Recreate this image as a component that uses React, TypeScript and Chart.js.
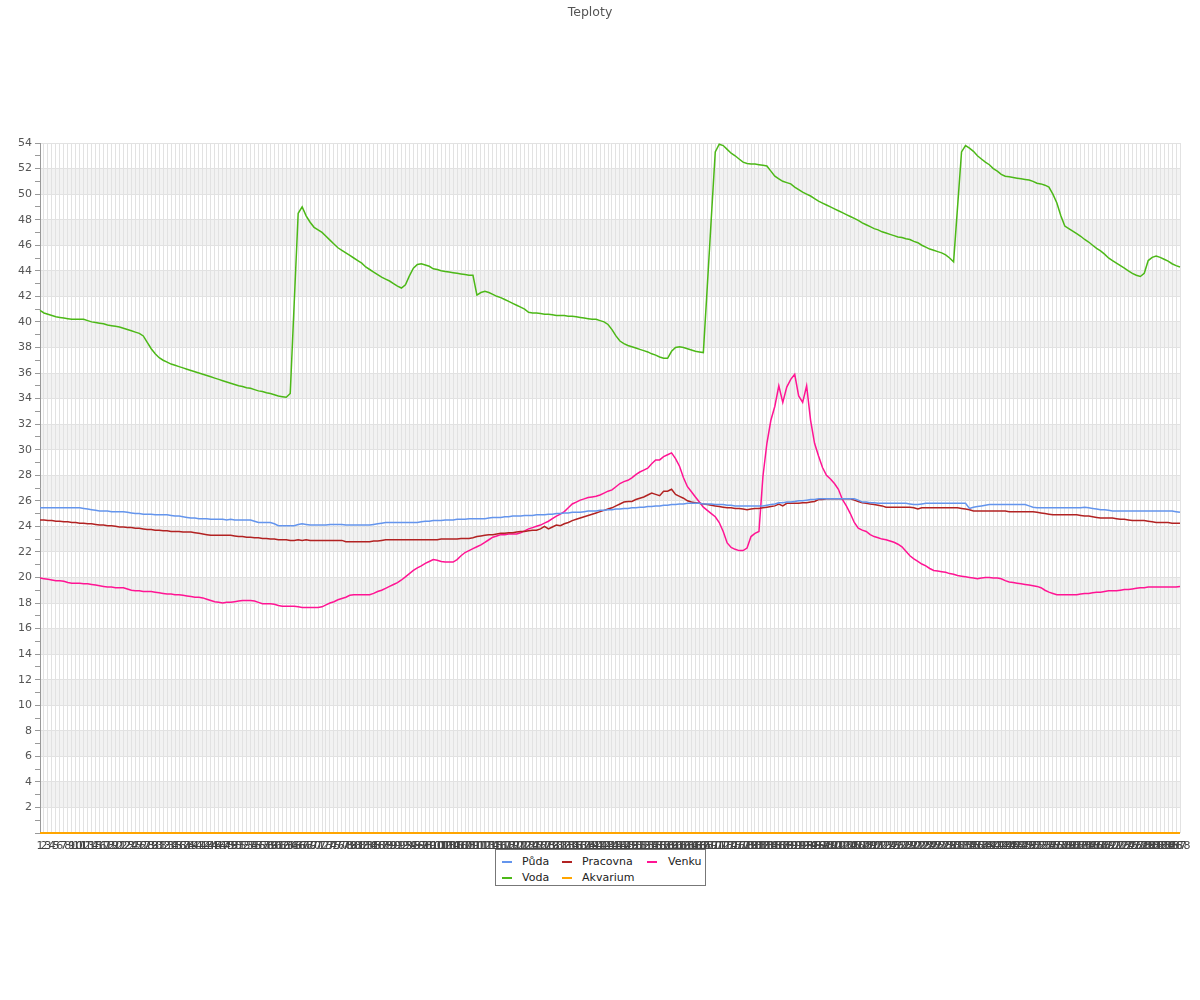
import React, { useEffect, useRef } from "react";
import { Chart, registerables } from "chart.js";

Chart.register(...registerables);

const FONT = "'DejaVu Sans', sans-serif";

const labels: string[] = Array.from({ length: 288 }, (_, i) => String(i + 1));

const puda = [
  25.45, 25.45, 25.45, 25.45, 25.45, 25.45, 25.45, 25.45, 25.45, 25.45, 25.45, 25.4, 25.35, 25.3, 25.25, 25.2,
  25.2, 25.2, 25.15, 25.15, 25.15, 25.15, 25.1, 25.05, 25.0, 25.0, 24.95, 24.95, 24.95, 24.9, 24.9, 24.9,
  24.9, 24.85, 24.8, 24.8, 24.75, 24.7, 24.65, 24.65, 24.6, 24.6, 24.6, 24.55, 24.55, 24.55, 24.55, 24.5,
  24.55, 24.5, 24.5, 24.5, 24.5, 24.5, 24.4, 24.3, 24.3, 24.3, 24.3, 24.2, 24.05, 24.05, 24.05, 24.05,
  24.05, 24.15, 24.2, 24.15, 24.1, 24.1, 24.1, 24.1, 24.1, 24.15, 24.15, 24.15, 24.15, 24.1, 24.1, 24.1,
  24.1, 24.1, 24.1, 24.1, 24.15, 24.2, 24.25, 24.3, 24.3, 24.3, 24.3, 24.3, 24.3, 24.3, 24.3, 24.3,
  24.35, 24.4, 24.4, 24.45, 24.45, 24.45, 24.5, 24.5, 24.5, 24.55, 24.55, 24.55, 24.6, 24.6, 24.6, 24.6,
  24.6, 24.65, 24.7, 24.7, 24.7, 24.75, 24.75, 24.8, 24.8, 24.8, 24.85, 24.85, 24.85, 24.9, 24.9, 24.9,
  24.95, 24.95, 25.0, 25.0, 25.05, 25.05, 25.1, 25.1, 25.1, 25.15, 25.2, 25.2, 25.2, 25.25, 25.25, 25.3,
  25.3, 25.35, 25.35, 25.4, 25.4, 25.45, 25.45, 25.5, 25.5, 25.55, 25.55, 25.6, 25.6, 25.65, 25.65, 25.7,
  25.7, 25.75, 25.75, 25.8, 25.8, 25.8, 25.8, 25.75, 25.75, 25.75, 25.7, 25.7, 25.7, 25.65, 25.65, 25.6,
  25.6, 25.6, 25.6, 25.6, 25.6, 25.6, 25.6, 25.65, 25.7, 25.75, 25.85, 25.85, 25.9, 25.9, 25.95, 26.0,
  26.0, 26.05, 26.1, 26.1, 26.15, 26.15, 26.15, 26.15, 26.15, 26.15, 26.15, 26.15, 26.15, 26.15, 26.05, 25.9,
  25.9, 25.85, 25.85, 25.8, 25.8, 25.8, 25.8, 25.8, 25.8, 25.8, 25.8, 25.75, 25.7, 25.7, 25.75, 25.8,
  25.8, 25.8, 25.8, 25.8, 25.8, 25.8, 25.8, 25.8, 25.8, 25.8, 25.4, 25.5, 25.55, 25.6, 25.65, 25.7,
  25.7, 25.7, 25.7, 25.7, 25.7, 25.7, 25.7, 25.7, 25.7, 25.6, 25.5, 25.45, 25.45, 25.45, 25.45, 25.45,
  25.45, 25.45, 25.45, 25.45, 25.45, 25.45, 25.45, 25.5, 25.45, 25.4, 25.35, 25.3, 25.3, 25.25, 25.2, 25.2,
  25.2, 25.2, 25.2, 25.2, 25.2, 25.2, 25.2, 25.2, 25.2, 25.2, 25.2, 25.2, 25.2, 25.2, 25.15, 25.1,
];

const voda = [
  40.9, 40.7, 40.6, 40.5, 40.4, 40.35, 40.3, 40.25, 40.2, 40.2, 40.2, 40.2, 40.1, 40.0, 39.95, 39.9,
  39.85, 39.75, 39.7, 39.65, 39.6, 39.5, 39.4, 39.3, 39.2, 39.1, 38.9, 38.4, 37.9, 37.5, 37.2, 37.0,
  36.85, 36.7, 36.6, 36.5, 36.4, 36.3, 36.2, 36.1, 36.0, 35.9, 35.8, 35.7, 35.6, 35.5, 35.4, 35.3,
  35.2, 35.1, 35.0, 34.95, 34.85, 34.8, 34.7, 34.6, 34.55, 34.45, 34.4, 34.3, 34.2, 34.15, 34.1, 34.4,
  41.5, 48.5, 49.0, 48.3, 47.8, 47.4, 47.2, 47.0, 46.7, 46.4, 46.1, 45.8, 45.6, 45.4, 45.2, 45.0,
  44.8, 44.6, 44.3, 44.1, 43.9, 43.7, 43.5, 43.35, 43.2, 43.0, 42.8, 42.65, 42.9, 43.6, 44.2, 44.5,
  44.55, 44.45, 44.35, 44.15, 44.1, 44.0, 43.95, 43.9, 43.85, 43.8, 43.75, 43.7, 43.65, 43.65, 42.1, 42.3,
  42.4, 42.3, 42.15, 42.0, 41.9, 41.75, 41.6, 41.45, 41.3, 41.15, 41.0, 40.75, 40.7, 40.7, 40.65, 40.6,
  40.6, 40.55, 40.5, 40.5, 40.5, 40.45, 40.45, 40.4, 40.35, 40.3, 40.25, 40.2, 40.2, 40.1, 40.0, 39.8,
  39.4, 38.9, 38.5, 38.3, 38.15, 38.05, 37.95, 37.85, 37.75, 37.65, 37.5, 37.4, 37.25, 37.15, 37.15, 37.7,
  38.0, 38.05, 38.0, 37.9, 37.8, 37.7, 37.65, 37.6, 42.8, 48.1, 53.3, 53.9, 53.8, 53.5, 53.2, 53.0,
  52.75, 52.5, 52.4, 52.35, 52.35, 52.3, 52.25, 52.2, 51.8, 51.4, 51.2, 51.0, 50.9, 50.8, 50.55, 50.35,
  50.15, 50.0, 49.85, 49.65, 49.45, 49.3, 49.15, 49.0, 48.85, 48.7, 48.55, 48.4, 48.25, 48.1, 47.95, 47.75,
  47.6, 47.45, 47.3, 47.2, 47.05, 46.95, 46.85, 46.75, 46.65, 46.6, 46.5, 46.45, 46.3, 46.2, 46.0, 45.85,
  45.7, 45.6, 45.5, 45.4, 45.25, 45.0, 44.7, 49.0, 53.3, 53.8, 53.6, 53.35, 53.0, 52.75, 52.5, 52.3,
  52.0, 51.8, 51.55, 51.4, 51.35, 51.3, 51.25, 51.2, 51.15, 51.1, 51.0, 50.85, 50.8, 50.7, 50.55, 50.0,
  49.3, 48.3, 47.5, 47.3, 47.1, 46.9, 46.7, 46.45, 46.25, 46.0, 45.75, 45.55, 45.3, 45.0, 44.8, 44.6,
  44.4, 44.2, 44.0, 43.8, 43.65, 43.55, 43.8, 44.8, 45.05, 45.15, 45.05, 44.9, 44.75, 44.55, 44.4, 44.3,
];

const pracovna = [
  24.5, 24.5, 24.45, 24.45, 24.4, 24.4, 24.35, 24.35, 24.3, 24.3, 24.25, 24.25, 24.2, 24.2, 24.15, 24.1,
  24.1, 24.05, 24.05, 24.0, 23.95, 23.95, 23.9, 23.9, 23.85, 23.85, 23.8, 23.75, 23.75, 23.7, 23.7, 23.65,
  23.65, 23.6, 23.6, 23.6, 23.55, 23.55, 23.55, 23.5, 23.45, 23.4, 23.35, 23.3, 23.3, 23.3, 23.3, 23.3,
  23.3, 23.25, 23.2, 23.2, 23.15, 23.15, 23.1, 23.1, 23.05, 23.05, 23.0, 23.0, 22.95, 22.95, 22.95, 22.9,
  22.9, 22.95, 22.9, 22.95, 22.9, 22.9, 22.9, 22.9, 22.9, 22.9, 22.9, 22.9, 22.9, 22.8, 22.8, 22.8,
  22.8, 22.8, 22.8, 22.8, 22.85, 22.85, 22.9, 22.95, 22.95, 22.95, 22.95, 22.95, 22.95, 22.95, 22.95, 22.95,
  22.95, 22.95, 22.95, 22.95, 22.95, 23.0, 23.0, 23.0, 23.0, 23.0, 23.05, 23.05, 23.05, 23.1, 23.2, 23.25,
  23.3, 23.35, 23.35, 23.4, 23.45, 23.45, 23.5, 23.5, 23.55, 23.6, 23.6, 23.65, 23.7, 23.7, 23.8, 24.0,
  23.8, 23.95, 24.1, 24.05, 24.2, 24.3, 24.45, 24.55, 24.65, 24.75, 24.85, 24.95, 25.05, 25.15, 25.25, 25.35,
  25.45, 25.6, 25.75, 25.9, 25.95, 25.95, 26.1, 26.2, 26.3, 26.45, 26.6, 26.5, 26.4, 26.75, 26.75, 26.9,
  26.5, 26.35, 26.2, 26.0, 25.9, 25.85, 25.8, 25.75, 25.7, 25.65, 25.6, 25.55, 25.5, 25.45, 25.45, 25.4,
  25.4, 25.35, 25.3, 25.35, 25.4, 25.4, 25.45, 25.5, 25.55, 25.6, 25.75, 25.6, 25.8, 25.8, 25.8, 25.8,
  25.85, 25.85, 25.9, 25.95, 26.1, 26.1, 26.15, 26.15, 26.15, 26.15, 26.15, 26.15, 26.15, 26.05, 25.95, 25.85,
  25.8, 25.75, 25.7, 25.65, 25.6, 25.5, 25.5, 25.5, 25.5, 25.5, 25.5, 25.5, 25.45, 25.35, 25.45, 25.45,
  25.45, 25.45, 25.45, 25.45, 25.45, 25.45, 25.45, 25.45, 25.4, 25.35, 25.3, 25.2, 25.2, 25.2, 25.2, 25.2,
  25.2, 25.2, 25.2, 25.2, 25.15, 25.15, 25.15, 25.15, 25.15, 25.15, 25.15, 25.1, 25.05, 25.0, 24.95, 24.9,
  24.9, 24.9, 24.9, 24.9, 24.9, 24.9, 24.85, 24.8, 24.8, 24.75, 24.7, 24.65, 24.65, 24.65, 24.65, 24.6,
  24.55, 24.55, 24.5, 24.45, 24.45, 24.45, 24.45, 24.4, 24.35, 24.3, 24.3, 24.3, 24.3, 24.25, 24.25, 24.25,
];

const akvarium = [
  0, 0, 0, 0, 0, 0, 0, 0, 0, 0, 0, 0, 0, 0, 0, 0,
  0, 0, 0, 0, 0, 0, 0, 0, 0, 0, 0, 0, 0, 0, 0, 0,
  0, 0, 0, 0, 0, 0, 0, 0, 0, 0, 0, 0, 0, 0, 0, 0,
  0, 0, 0, 0, 0, 0, 0, 0, 0, 0, 0, 0, 0, 0, 0, 0,
  0, 0, 0, 0, 0, 0, 0, 0, 0, 0, 0, 0, 0, 0, 0, 0,
  0, 0, 0, 0, 0, 0, 0, 0, 0, 0, 0, 0, 0, 0, 0, 0,
  0, 0, 0, 0, 0, 0, 0, 0, 0, 0, 0, 0, 0, 0, 0, 0,
  0, 0, 0, 0, 0, 0, 0, 0, 0, 0, 0, 0, 0, 0, 0, 0,
  0, 0, 0, 0, 0, 0, 0, 0, 0, 0, 0, 0, 0, 0, 0, 0,
  0, 0, 0, 0, 0, 0, 0, 0, 0, 0, 0, 0, 0, 0, 0, 0,
  0, 0, 0, 0, 0, 0, 0, 0, 0, 0, 0, 0, 0, 0, 0, 0,
  0, 0, 0, 0, 0, 0, 0, 0, 0, 0, 0, 0, 0, 0, 0, 0,
  0, 0, 0, 0, 0, 0, 0, 0, 0, 0, 0, 0, 0, 0, 0, 0,
  0, 0, 0, 0, 0, 0, 0, 0, 0, 0, 0, 0, 0, 0, 0, 0,
  0, 0, 0, 0, 0, 0, 0, 0, 0, 0, 0, 0, 0, 0, 0, 0,
  0, 0, 0, 0, 0, 0, 0, 0, 0, 0, 0, 0, 0, 0, 0, 0,
  0, 0, 0, 0, 0, 0, 0, 0, 0, 0, 0, 0, 0, 0, 0, 0,
  0, 0, 0, 0, 0, 0, 0, 0, 0, 0, 0, 0, 0, 0, 0, 0,
];

const venku = [
  19.95, 19.9, 19.85, 19.8, 19.75, 19.75, 19.7, 19.6, 19.55, 19.55, 19.55, 19.5, 19.5, 19.45, 19.4, 19.35,
  19.3, 19.25, 19.25, 19.2, 19.2, 19.2, 19.1, 19.0, 18.95, 18.95, 18.9, 18.9, 18.9, 18.85, 18.8, 18.75,
  18.7, 18.7, 18.65, 18.65, 18.6, 18.55, 18.5, 18.45, 18.45, 18.4, 18.3, 18.2, 18.1, 18.05, 18.0, 18.05,
  18.05, 18.1, 18.15, 18.2, 18.2, 18.2, 18.15, 18.05, 17.95, 17.95, 17.95, 17.9, 17.8, 17.75, 17.75, 17.75,
  17.75, 17.7, 17.65, 17.65, 17.65, 17.65, 17.65, 17.7, 17.85, 18.0, 18.1, 18.25, 18.35, 18.45, 18.6, 18.65,
  18.65, 18.65, 18.65, 18.65, 18.75, 18.9, 19.0, 19.15, 19.3, 19.45, 19.6, 19.8, 20.05, 20.3, 20.55, 20.75,
  20.9, 21.1, 21.25, 21.4, 21.35, 21.25, 21.2, 21.2, 21.2, 21.4, 21.7, 21.95, 22.1, 22.25, 22.4, 22.55,
  22.75, 22.95, 23.15, 23.25, 23.35, 23.35, 23.4, 23.4, 23.4, 23.5, 23.65, 23.8, 23.9, 24.0, 24.1, 24.25,
  24.4, 24.6, 24.8, 24.95, 25.15, 25.45, 25.75, 25.9, 26.05, 26.15, 26.25, 26.3, 26.35, 26.45, 26.6, 26.75,
  26.85, 27.1, 27.35, 27.5, 27.6, 27.8, 28.05, 28.25, 28.4, 28.55, 28.9, 29.2, 29.2, 29.45, 29.6, 29.75,
  29.3, 28.7, 27.8, 27.1, 26.7, 26.3, 25.9, 25.5, 25.25, 25.0, 24.75, 24.3, 23.6, 22.7, 22.35, 22.2,
  22.1, 22.1, 22.3, 23.2, 23.45, 23.6, 27.9, 30.5, 32.3, 33.4, 35.0, 33.7, 34.9, 35.5, 35.9, 34.2,
  33.7, 35.0, 32.3, 30.5, 29.5, 28.6, 28.0, 27.7, 27.35, 26.9, 26.1, 25.6, 25.0, 24.3, 23.85, 23.7,
  23.6, 23.35, 23.2, 23.1, 23.0, 22.95, 22.85, 22.75, 22.6, 22.4, 22.05, 21.7, 21.45, 21.25, 21.05, 20.9,
  20.7, 20.55, 20.5, 20.45, 20.4, 20.3, 20.25, 20.15, 20.1, 20.05, 20.0, 19.95, 19.9, 19.95, 20.0, 20.0,
  19.95, 19.95, 19.9, 19.75, 19.65, 19.6, 19.55, 19.5, 19.45, 19.4, 19.35, 19.3, 19.2, 19.0, 18.85, 18.75,
  18.65, 18.65, 18.65, 18.65, 18.65, 18.65, 18.7, 18.75, 18.75, 18.8, 18.85, 18.85, 18.9, 18.95, 18.95, 18.95,
  19.0, 19.05, 19.05, 19.1, 19.15, 19.2, 19.2, 19.25, 19.25, 19.25, 19.25, 19.25, 19.25, 19.25, 19.25, 19.3,
];

const seriesNames = ["Půda", "Voda", "Pracovna", "Akvarium", "Venku"];
const seriesColors = ["#6495ed", "#4cb817", "#b22222", "#ffa500", "#ff1493"];
const seriesData = [puda, voda, pracovna, akvarium, venku];
const seriesWidths = [1.5, 1.5, 1.5, 2, 1.5];

const bandsPlugin = {
  id: "bands",
  beforeDraw(chart: any) {
    const { ctx, chartArea, scales } = chart;
    const y = scales.y;
    ctx.save();
    ctx.fillStyle = "#f2f2f2";
    for (let v = 2; v < 54; v += 4) {
      const top = y.getPixelForValue(v + 2);
      const bottom = y.getPixelForValue(v);
      ctx.fillRect(chartArea.left, top, chartArea.right - chartArea.left, bottom - top);
    }
    ctx.restore();
  },
};

// legend grid: column, row
const legendPos = [
  [0, 0],
  [0, 1],
  [1, 0],
  [1, 1],
  [2, 0],
];
const colSample = [6, 66, 151];
const colText = [26, 86, 172];
const rowY = [12, 28];

export default function App() {
  const canvasRef = useRef<HTMLCanvasElement | null>(null);

  useEffect(() => {
    if (!canvasRef.current) return;
    const chart = new Chart(canvasRef.current, {
      type: "line",
      data: {
        labels,
        datasets: seriesNames.map((name, i) => ({
          label: name,
          data: seriesData[i],
          borderColor: seriesColors[i],
          backgroundColor: seriesColors[i],
          borderWidth: seriesWidths[i],
          pointRadius: 0,
          fill: false,
          tension: 0,
          clip: false as any,
        })),
      },
      options: {
        animation: false,
        responsive: false,
        events: [],
        layout: { padding: { left: 0, right: 20, top: 0, bottom: 147 } },
        plugins: {
          legend: { display: false },
          tooltip: { enabled: false },
          title: {
            display: true,
            text: "Teploty",
            color: "#555",
            font: { family: FONT, size: 12.5, weight: "normal" },
            padding: { top: 5, bottom: 123 },
          },
        },
        scales: {
          x: {
            offset: false,
            grid: { color: "#e2e2e2", drawTicks: false, tickLength: 0 },
            border: { display: false },
            ticks: {
              autoSkip: false,
              maxRotation: 0,
              minRotation: 0,
              padding: 7,
              color: "#444",
              font: { family: FONT, size: 11 },
            },
            afterFit: (s: any) => {
              s.height = 20;
            },
          },
          y: {
            min: 0,
            max: 54,
            ticks: {
              stepSize: 1,
              autoSkip: false,
              padding: 3,
              color: "#555",
              font: { family: FONT, size: 11 },
              callback: (v: any) => (Number(v) % 2 === 0 && Number(v) !== 0 ? String(v) : ""),
            },
            grid: {
              color: (ctx: any) =>
                ctx.tick && Math.round(ctx.tick.value) % 2 === 0 ? "#e2e2e2" : "rgba(0,0,0,0)",
              tickColor: "#999",
              tickLength: 5,
            },
            border: { color: "#999" },
            afterFit: (s: any) => {
              s.width = 40;
            },
          },
        },
      },
      plugins: [bandsPlugin],
    });
    return () => chart.destroy();
  }, []);

  return (
    <div style={{ position: "absolute", left: 0, top: 0, width: 1200, height: 1000, background: "#fff" }}>
      <canvas ref={canvasRef} width={1200} height={1000} style={{ display: "block" }} />
      <div
        style={{
          position: "absolute",
          left: 495,
          top: 849,
          width: 209,
          height: 35,
          border: "1px solid #777",
          background: "#fff",
          fontFamily: FONT,
          fontSize: 11,
          color: "#222",
        }}
      >
        {seriesNames.map((name, i) => {
          const [c, r] = legendPos[i];
          return (
            <React.Fragment key={name}>
              <div
                style={{
                  position: "absolute",
                  left: colSample[c],
                  top: rowY[r] - 1,
                  width: 10,
                  height: 2,
                  background: seriesColors[i],
                }}
              />
              <div
                style={{
                  position: "absolute",
                  left: colText[c],
                  top: rowY[r] - 7,
                  lineHeight: "14px",
                  whiteSpace: "nowrap",
                }}
              >
                {name}
              </div>
            </React.Fragment>
          );
        })}
      </div>
    </div>
  );
}
